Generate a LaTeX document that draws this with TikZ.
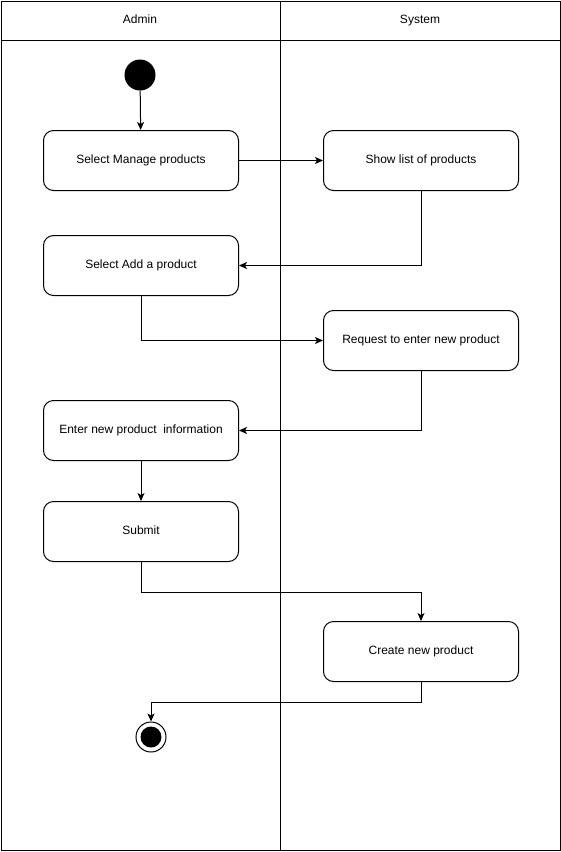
\documentclass[tikz,border=0pt]{standalone}
\usepackage{fontspec}
\setmainfont{Liberation Sans}
\usetikzlibrary{arrows.meta}
\begin{document}
\begin{tikzpicture}[x=1pt,y=-1pt,
  lane/.style={draw=black,line width=1pt},
  action/.style={draw=black,line width=1pt,rounded corners=10pt,minimum width=195pt,minimum height=60pt,
    inner sep=0pt,text height=9pt,text depth=2.5pt,font=\fontsize{12}{14}\selectfont,anchor=north west},
  flow/.style={draw=black,line width=1pt,-{Stealth[length=8pt,width=7pt,inset=2pt]}},
  lanetitle/.style={font=\fontsize{12}{14}\selectfont,text height=9pt,text depth=2.5pt,inner sep=0pt}]
\useasboundingbox (0,0) rectangle (561,852);
% swimlane frame
\draw[lane] (1,1) rectangle (560,850);
\draw[lane] (1,40) -- (560,40);
\draw[lane] (280,1) -- (280,850);
\node[lanetitle] (admin) at (140,20) {Admin};
\node[lanetitle] (system) at (420,20) {System};
% start and end
\node[circle,fill=black,minimum size=31pt,inner sep=0pt] (start) at (140,75) {};
\node[circle,draw=black,line width=1pt,minimum size=30pt,inner sep=0pt] (stop) at (151,737) {};
\fill[black] (stop.center) circle (10.5pt);
% actions
\node[action] (a1) at (43,130) {Select Manage products};
\node[action] (s1) at (323,130) {Show list of products};
\node[action] (a2) at (43,235) {Select Add a product};
\node[action] (s2) at (323,310) {Request to enter new product};
\node[action] (a3) at (43,400) {Enter new product\ \ information};
\node[action] (a4) at (43,501) {Submit};
\node[action] (s3) at (323,621) {Create new product};
% connectors
\draw[flow] (start) -- (a1);
\draw[flow] (a1) -- (s1);
\draw[flow] (s1.south) |- (a2.east);
\draw[flow] (a2.south) |- (s2.west);
\draw[flow] (s2.south) |- (a3.east);
\draw[flow] (a3) -- (a4);
\draw[flow] (a4.south) -- ++(0,30) -| (s3.north);
\draw[flow] (s3.south) -- ++(0,20) -| (stop.north);
\end{tikzpicture}
\end{document}
